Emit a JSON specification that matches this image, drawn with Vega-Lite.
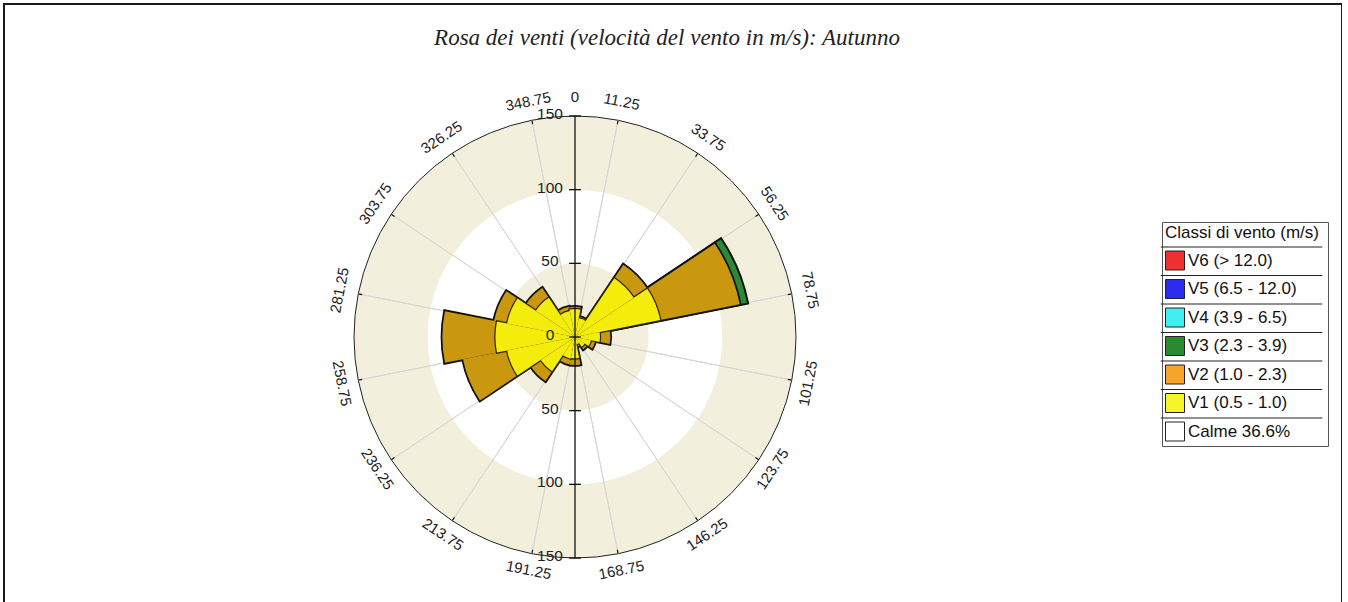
{
  "$schema": "https://vega.github.io/schema/vega-lite/v6.json",
  "width": 1338,
  "height": 620,
  "autosize": {"type": "none"},
  "padding": {"left": 4, "top": 4, "right": 0, "bottom": 0},
  "background": "white",
  "config": {"view": {"stroke": "#1a1a1a", "strokeWidth": 2}},
  "title": {"text": "Rosa dei venti (velocità del vento in m/s): Autunno", "font": "Liberation Serif", "fontStyle": "italic", "fontWeight": "normal", "fontSize": 23, "color": "#222222", "offset": -46, "dx": -6},
  "datasets": {
    "rose": [
      {"dir": 0, "cls": "V1", "val": 19}, {"dir": 0, "cls": "V2", "val": 1.5},
      {"dir": 22.5, "cls": "V1", "val": 13}, {"dir": 22.5, "cls": "V2", "val": 1},
      {"dir": 45, "cls": "V1", "val": 48}, {"dir": 45, "cls": "V2", "val": 11},
      {"dir": 67.5, "cls": "V1", "val": 59}, {"dir": 67.5, "cls": "V2", "val": 55}, {"dir": 67.5, "cls": "V3", "val": 5},
      {"dir": 90, "cls": "V1", "val": 17}, {"dir": 90, "cls": "V2", "val": 7},
      {"dir": 112.5, "cls": "V1", "val": 11}, {"dir": 112.5, "cls": "V2", "val": 3},
      {"dir": 135, "cls": "V1", "val": 8}, {"dir": 135, "cls": "V2", "val": 2},
      {"dir": 157.5, "cls": "V1", "val": 5}, {"dir": 157.5, "cls": "V2", "val": 1.5},
      {"dir": 180, "cls": "V1", "val": 14.5}, {"dir": 180, "cls": "V2", "val": 4.5},
      {"dir": 202.5, "cls": "V1", "val": 15}, {"dir": 202.5, "cls": "V2", "val": 4},
      {"dir": 225, "cls": "V1", "val": 28}, {"dir": 225, "cls": "V2", "val": 8},
      {"dir": 247.5, "cls": "V1", "val": 47}, {"dir": 247.5, "cls": "V2", "val": 30.5},
      {"dir": 270, "cls": "V1", "val": 54}, {"dir": 270, "cls": "V2", "val": 36},
      {"dir": 292.5, "cls": "V1", "val": 47}, {"dir": 292.5, "cls": "V2", "val": 9},
      {"dir": 315, "cls": "V1", "val": 32}, {"dir": 315, "cls": "V2", "val": 8},
      {"dir": 337.5, "cls": "V1", "val": 18}, {"dir": 337.5, "cls": "V2", "val": 3}
    ],
    "angs": [
      {"a": 0}, {"a": 11.25}, {"a": 33.75}, {"a": 56.25}, {"a": 78.75}, {"a": 101.25}, {"a": 123.75}, {"a": 146.25}, {"a": 168.75},
      {"a": 191.25}, {"a": 213.75}, {"a": 236.25}, {"a": 258.75}, {"a": 281.25}, {"a": 303.75}, {"a": 326.25}, {"a": 348.75}
    ],
    "ticks": [
      {"v": 150, "lab": "150"}, {"v": 100, "lab": "100"}, {"v": 50, "lab": "50"}, {"v": 0, "lab": "0"},
      {"v": -50, "lab": "50"}, {"v": -100, "lab": "100"}, {"v": -150, "lab": "150"}
    ],
    "legend": [
      {"lab": "V6 (> 12.0)"}, {"lab": "V5 (6.5 - 12.0)"}, {"lab": "V4 (3.9 - 6.5)"}, {"lab": "V3 (2.3 - 3.9)"},
      {"lab": "V2 (1.0 - 2.3)"}, {"lab": "V1 (0.5 - 1.0)"}, {"lab": "Calme 36.6%"}
    ]
  },
  "resolve": {"scale": {"angle": "independent"}},
  "layer": [
    {
      "data": {"name": "legend"},
      "mark": {"type": "square", "size": 30, "opacity": 1, "filled": true},
      "encoding": {
        "x": {"datum": 0, "type": "quantitative", "scale": {"domain": [-387.56, 520.59], "nice": false, "zero": false}, "axis": null},
        "y": {"datum": 0, "type": "quantitative", "scale": {"domain": [-194.8, 226.02], "nice": false, "zero": false}, "axis": null},
        "color": {
          "field": "lab", "type": "nominal",
          "scale": {"domain": ["V6 (> 12.0)", "V5 (6.5 - 12.0)", "V4 (3.9 - 6.5)", "V3 (2.3 - 3.9)", "V2 (1.0 - 2.3)", "V1 (0.5 - 1.0)", "Calme 36.6%"],
                    "range": ["#ef3030", "#2c2cf0", "#3ef0f0", "#2a8a30", "#f5a52c", "#f7f52a", "#ffffff"]},
          "legend": {
            "title": "Classi di vento (m/s)",
            "orient": "none", "legendX": 1158, "legendY": 218,
            "symbolType": "M-1,-1H1V1H-1Z M-1.5,-1.42H15.5",
            "symbolSize": 361,
            "symbolOpacity": 1,
            "symbolStrokeColor": "#222222", "symbolStrokeWidth": 1,
            "strokeColor": "#555555", "fillColor": "#ffffff", "padding": 3,
            "labelFont": "Liberation Sans", "labelFontSize": 17, "labelColor": "#111111", "labelOffset": 3, "labelLimit": 400,
            "titleFont": "Liberation Sans", "titleFontSize": 17, "titleFontWeight": "normal", "titleColor": "#111111", "titlePadding": 8.5, "titleLimit": 400,
            "rowPadding": 0.5
          }
        }
      }
    },
    {
      "data": {"values": [{}]},
      "mark": {"type": "arc", "fill": "#f2f0dc", "stroke": "#222222", "strokeWidth": 1},
      "encoding": {
        "x": {"datum": 0, "type": "quantitative", "scale": {"domain": [-387.56, 520.59], "nice": false, "zero": false}, "axis": null},
        "y": {"datum": 0, "type": "quantitative", "scale": {"domain": [-194.8, 226.02], "nice": false, "zero": false}, "axis": null},
        "theta": {"datum": 0, "type": "quantitative", "scale": {"domain": [0, 360], "range": [0, 6.283185307179586]}},
        "theta2": {"datum": 360},
        "radius": {"datum": 150, "type": "quantitative", "scale": {"type": "linear", "domain": [0, 150], "range": [0, 221], "nice": false}},
        "radius2": {"datum": 0}
      }
    },
    {
      "data": {"values": [{}]},
      "mark": {"type": "arc", "fill": "#ffffff"},
      "encoding": {
        "x": {"datum": 0, "type": "quantitative", "axis": null},
        "y": {"datum": 0, "type": "quantitative", "axis": null},
        "theta": {"datum": 0, "type": "quantitative"},
        "theta2": {"datum": 360},
        "radius": {"datum": 100, "type": "quantitative"},
        "radius2": {"datum": 50}
      }
    },
    {
      "data": {"name": "angs"},
      "transform": [{"filter": "datum.a > 0"}],
      "mark": {"type": "arc", "fill": "transparent", "stroke": "#d6d6d6", "strokeWidth": 1},
      "encoding": {
        "x": {"datum": 0, "type": "quantitative", "axis": null},
        "y": {"datum": 0, "type": "quantitative", "axis": null},
        "theta": {"field": "a", "type": "quantitative"},
        "theta2": {"field": "a"},
        "radius": {"datum": 150, "type": "quantitative"},
        "radius2": {"datum": 0}
      }
    },
    {
      "data": {"name": "rose"},
      "transform": [
        {"calculate": "datum.dir - 11.25", "as": "t0"},
        {"calculate": "datum.dir + 11.25", "as": "t1"},
        {"stack": "val", "groupby": ["dir"], "sort": [{"field": "cls", "order": "ascending"}], "as": ["r0", "r1"]}
      ],
      "layer": [
        {
          "transform": [{"filter": "datum.cls == 'V3'"}],
          "mark": {"type": "arc", "fill": "#2b8a3a", "stroke": "#111111", "strokeWidth": 4},
          "encoding": {
            "x": {"datum": 0, "type": "quantitative", "axis": null},
            "y": {"datum": 0, "type": "quantitative", "axis": null},
            "theta": {"field": "t0", "type": "quantitative"}, "theta2": {"field": "t1"},
            "radius": {"field": "r1", "type": "quantitative"}, "radius2": {"datum": 0}
          }
        },
        {
          "transform": [{"filter": "datum.cls == 'V3'"}],
          "mark": {"type": "arc", "fill": "#2b8a3a"},
          "encoding": {
            "x": {"datum": 0, "type": "quantitative", "axis": null},
            "y": {"datum": 0, "type": "quantitative", "axis": null},
            "theta": {"field": "t0", "type": "quantitative"}, "theta2": {"field": "t1"},
            "radius": {"field": "r1", "type": "quantitative"}, "radius2": {"datum": 0}
          }
        },
        {
          "transform": [{"filter": "datum.cls == 'V2'"}],
          "mark": {"type": "arc", "fill": "#c9980f", "stroke": "#111111", "strokeWidth": 3.5},
          "encoding": {
            "x": {"datum": 0, "type": "quantitative", "axis": null},
            "y": {"datum": 0, "type": "quantitative", "axis": null},
            "theta": {"field": "t0", "type": "quantitative"}, "theta2": {"field": "t1"},
            "radius": {"field": "r1", "type": "quantitative"}, "radius2": {"datum": 0}
          }
        },
        {
          "transform": [{"filter": "datum.cls == 'V2'"}],
          "mark": {"type": "arc", "fill": "#c9980f"},
          "encoding": {
            "x": {"datum": 0, "type": "quantitative", "axis": null},
            "y": {"datum": 0, "type": "quantitative", "axis": null},
            "theta": {"field": "t0", "type": "quantitative"}, "theta2": {"field": "t1"},
            "radius": {"field": "r1", "type": "quantitative"}, "radius2": {"datum": 0}
          }
        },
        {
          "transform": [{"filter": "datum.cls == 'V1'"}],
          "mark": {"type": "arc", "fill": "#f4ec0a", "stroke": "#2a2200", "strokeWidth": 2.4},
          "encoding": {
            "x": {"datum": 0, "type": "quantitative", "axis": null},
            "y": {"datum": 0, "type": "quantitative", "axis": null},
            "theta": {"field": "t0", "type": "quantitative"}, "theta2": {"field": "t1"},
            "radius": {"field": "r1", "type": "quantitative"}, "radius2": {"datum": 0}
          }
        },
        {
          "transform": [{"filter": "datum.cls == 'V1'"}],
          "mark": {"type": "arc", "fill": "#f4ec0a"},
          "encoding": {
            "x": {"datum": 0, "type": "quantitative", "axis": null},
            "y": {"datum": 0, "type": "quantitative", "axis": null},
            "theta": {"field": "t0", "type": "quantitative"}, "theta2": {"field": "t1"},
            "radius": {"field": "r1", "type": "quantitative"}, "radius2": {"datum": 0}
          }
        }
      ]
    },
    {
      "data": {"values": [{}]},
      "mark": {"type": "rule", "color": "#111111", "strokeWidth": 1.3},
      "encoding": {
        "x": {"datum": 0, "type": "quantitative", "axis": null},
        "y": {"datum": -150, "type": "quantitative", "axis": null},
        "y2": {"datum": 150}
      }
    },
    {
      "data": {"name": "ticks"},
      "mark": {"type": "rule", "color": "#111111", "strokeWidth": 1.3},
      "encoding": {
        "x": {"datum": -4, "type": "quantitative", "axis": null},
        "x2": {"datum": 4},
        "y": {"field": "v", "type": "quantitative", "axis": null}
      }
    },
    {
      "data": {"name": "angs"},
      "transform": [{"filter": "datum.a > 0"}],
      "mark": {"type": "arc", "fill": "transparent", "stroke": "#111111", "strokeWidth": 1.2},
      "encoding": {
        "x": {"datum": 0, "type": "quantitative", "axis": null},
        "y": {"datum": 0, "type": "quantitative", "axis": null},
        "theta": {"field": "a", "type": "quantitative"},
        "theta2": {"field": "a"},
        "radius": {"datum": 150, "type": "quantitative"},
        "radius2": {"datum": 147.3}
      }
    },
    {
      "data": {"name": "ticks"},
      "mark": {"type": "text", "font": "Liberation Sans", "fontSize": 15.5, "color": "#222222", "align": "center", "baseline": "middle", "dy": -2},
      "encoding": {
        "x": {"datum": -17, "type": "quantitative", "axis": null},
        "y": {"field": "v", "type": "quantitative", "axis": null},
        "text": {"field": "lab"}
      }
    },
    {
      "data": {"name": "angs"},
      "transform": [{"filter": "datum.a < 90 || datum.a > 270"}],
      "mark": {"type": "text", "font": "Liberation Sans", "fontSize": 15, "color": "#222222", "align": "center", "baseline": "bottom"},
      "encoding": {
        "x": {"datum": 0, "type": "quantitative", "axis": null},
        "y": {"datum": 0, "type": "quantitative", "axis": null},
        "theta": {"field": "a", "type": "quantitative"},
        "radius": {"datum": 157.5, "type": "quantitative"},
        "angle": {"field": "a", "type": "quantitative", "scale": {"domain": [0, 360], "range": [0, 360]}},
        "text": {"field": "a", "type": "quantitative", "format": ".2~f"}
      }
    },
    {
      "data": {"name": "angs"},
      "transform": [{"filter": "datum.a > 90 && datum.a < 270"}],
      "mark": {"type": "text", "font": "Liberation Sans", "fontSize": 15, "color": "#222222", "align": "center", "baseline": "top"},
      "encoding": {
        "x": {"datum": 0, "type": "quantitative", "axis": null},
        "y": {"datum": 0, "type": "quantitative", "axis": null},
        "theta": {"field": "a", "type": "quantitative"},
        "radius": {"datum": 156.5, "type": "quantitative"},
        "angle": {"field": "a", "type": "quantitative", "scale": {"domain": [90, 270], "range": [-90, 90]}},
        "text": {"field": "a", "type": "quantitative", "format": ".2~f"}
      }
    }
  ]
}
